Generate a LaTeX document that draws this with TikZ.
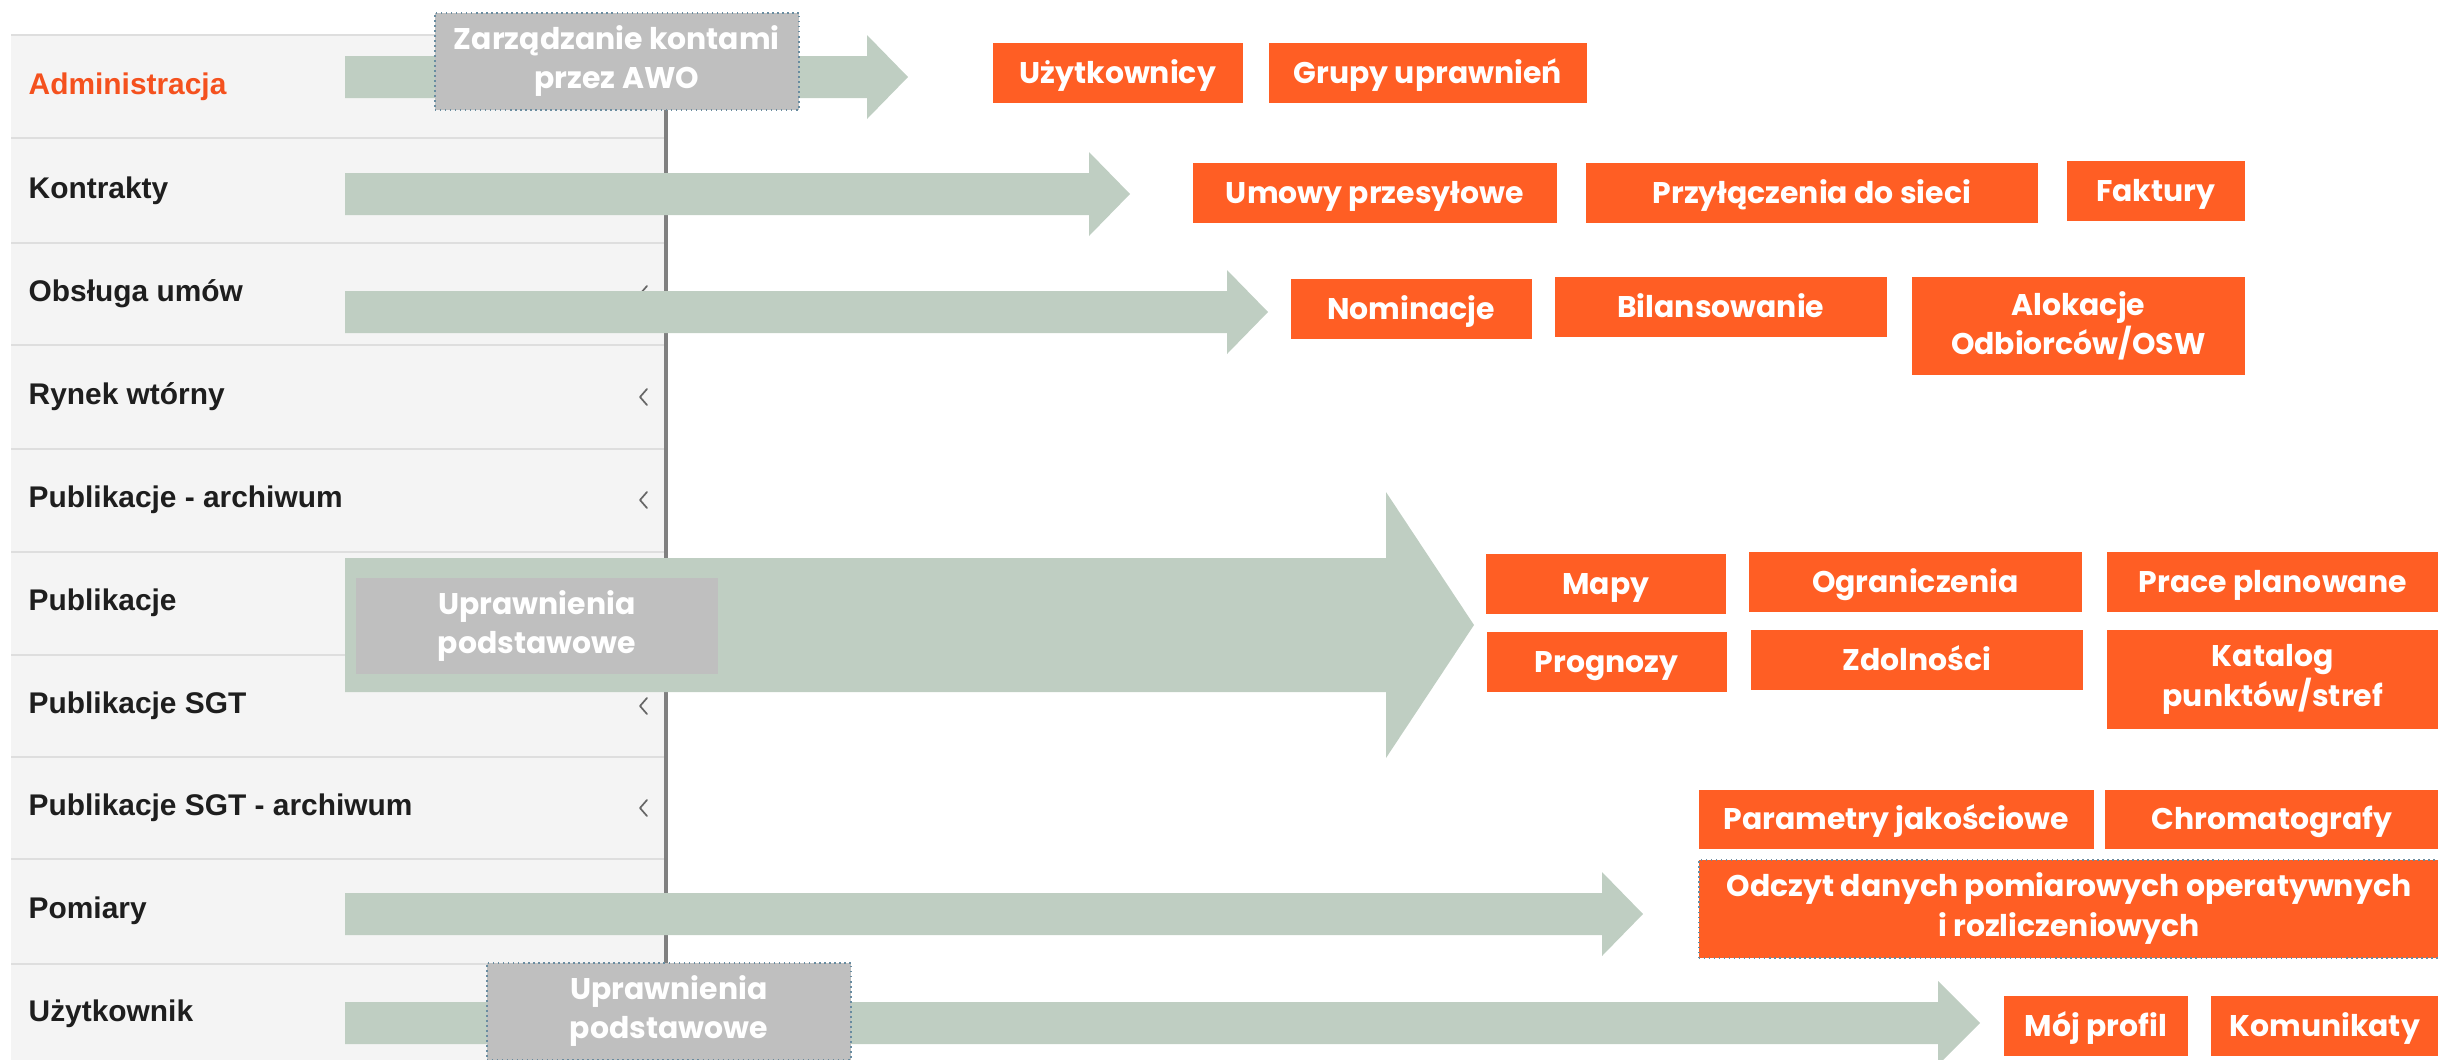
\documentclass[tikz,border=0pt]{standalone}
\usepackage{fontspec}
\setmainfont{Liberation Sans}
\newfontfamily\gfont{Poppins}
\usetikzlibrary{calc}
\definecolor{orf}{RGB}{255,94,36}
\definecolor{arf}{RGB}{191,206,194}
\definecolor{gbf}{RGB}{191,191,191}
\definecolor{pbg}{RGB}{244,244,244}
\definecolor{sepc}{RGB}{222,222,222}
\definecolor{vlinec}{RGB}{128,128,128}
\definecolor{dotc}{RGB}{105,140,160}
\definecolor{admc}{RGB}{244,81,30}
\definecolor{menut}{RGB}{30,30,30}
\newcommand\blockarr[5]{\fill[arr] ($(#1)+(0,-#3)$) -- ($(#2)+(-#4,-#3)$) -- ($(#2)+(-#4,-#5)$) -- (#2) -- ($(#2)+(-#4,#5)$) -- ($(#2)+(-#4,#3)$) -- ($(#1)+(0,#3)$) -- cycle;}
\begin{document}
\begin{tikzpicture}[x=0.01cm,y=-0.01cm,
  obox/.style={fill=orf,text=white,font=\gfont\bfseries\fontsize{8.5}{11.3}\selectfont,align=center,inner sep=0pt,anchor=north west},
  one/.style={text height=5.9pt,text depth=0pt},
  gbox/.style={fill=gbf,text=white,font=\gfont\bfseries\fontsize{8.5}{11.2}\selectfont,align=center,inner sep=0pt,anchor=north west},
  dotb/.style={draw=dotc,densely dotted,line width=0.15mm},
  menu/.style={anchor=west,font=\bfseries\fontsize{8.5}{10}\selectfont,text=menut,inner sep=0pt},
  arr/.style={fill=arf},
  chev/.style={draw=black!60,line width=0.17mm,line cap=round,line join=round},
  sepline/.style={draw=sepc,line width=0.25mm}
]
\useasboundingbox (0,0) rectangle (2438,1060);
% left menu panel
\fill[pbg] (11,35) rectangle (666,1060);
\foreach \yy in {35,138,243,345,449,552,655,757,859,964}
  \draw[sepline] (11,\yy) -- (664,\yy);
\draw[draw=vlinec,line width=0.4mm] (666,35) -- (666,1060);
\node[menu,text=admc] (mAdm) at (28,87) {Administracja};
\node[menu] (mKon) at (28,191) {Kontrakty};
\node[menu] (mObs) at (28,294) {Obsługa umów};
\node[menu] (mRyn) at (28,397) {Rynek wtórny};
\node[menu] (mPA) at (28,500) {Publikacje - archiwum};
\node[menu] (mPub) at (28,603) {Publikacje};
\node[menu] (mSGT) at (28,706) {Publikacje SGT};
\node[menu] (mSGTA) at (28,808) {Publikacje SGT - archiwum};
\node[menu] (mPom) at (28,911) {Pomiary};
\node[menu] (mUzy) at (28,1014) {Użytkownik};
\foreach \yy in {294,397,500,706,808}
  \draw[chev] (647,{\yy-8}) -- (640,\yy) -- (647,{\yy+8});
% block arrows
\coordinate (a1s) at (345,77);   \coordinate (a1t) at (908,77);
\coordinate (a2s) at (345,194);  \coordinate (a2t) at (1130,194);
\coordinate (a3s) at (345,312);  \coordinate (a3t) at (1268,312);
\coordinate (a4s) at (345,625);  \coordinate (a4t) at (1474,625);
\coordinate (a5s) at (345,914);  \coordinate (a5t) at (1643,914);
\coordinate (a6s) at (345,1023); \coordinate (a6t) at (1980,1023);
\blockarr{a1s}{a1t}{21}{41}{42}
\blockarr{a2s}{a2t}{21}{41}{42}
\blockarr{a3s}{a3t}{21}{41}{42}
\blockarr{a4s}{a4t}{67}{88}{133}
\blockarr{a5s}{a5t}{21}{41}{42}
\blockarr{a6s}{a6t}{21}{42}{42}
% grey boxes
\node[gbox,dotb,minimum width=36.4mm,minimum height=9.7mm] (g1) at (434,12) {Zarządzanie kontami\\przez AWO};
\node[gbox,minimum width=36.2mm,minimum height=9.6mm] (g2) at (355,577) {Uprawnienia\\podstawowe};
\node[gbox,dotb,minimum width=36.4mm,minimum height=9.7mm] (g3) at (486,962) {Uprawnienia\\podstawowe};
% orange boxes
\node[obox,one,minimum width=25.0mm,minimum height=6.0mm] (b1) at (992,42) {Użytkownicy};
\node[obox,one,minimum width=31.8mm,minimum height=6.0mm] (b2) at (1268,42) {Grupy uprawnień};
\node[obox,one,minimum width=36.4mm,minimum height=6.0mm] (b3) at (1192,162) {Umowy przesyłowe};
\node[obox,one,minimum width=45.2mm,minimum height=6.0mm] (b4) at (1585,162) {Przyłączenia do sieci};
\node[obox,one,minimum width=17.8mm,minimum height=6.0mm] (b5) at (2066,160) {Faktury};
\node[obox,one,minimum width=24.1mm,minimum height=6.0mm] (b6) at (1290,278) {Nominacje};
\node[obox,one,minimum width=33.2mm,minimum height=6.0mm] (b7) at (1554,276) {Bilansowanie};
\node[obox,minimum width=33.3mm,minimum height=9.8mm] (b8) at (1911,276) {Alokacje\\Odbiorców/OSW};
\node[obox,one,minimum width=24.0mm,minimum height=6.0mm] (b9) at (1485,553) {Mapy};
\node[obox,one,minimum width=33.3mm,minimum height=6.0mm] (b10) at (1748,551) {Ograniczenia};
\node[obox,one,minimum width=33.2mm,minimum height=6.0mm] (b11) at (2106,551) {Prace planowane};
\node[obox,one,minimum width=24.0mm,minimum height=6.0mm] (b12) at (1486,631) {Prognozy};
\node[obox,one,minimum width=33.2mm,minimum height=6.0mm] (b13) at (1750,629) {Zdolności};
\node[obox,minimum width=33.2mm,minimum height=9.9mm] (b14) at (2106,629) {Katalog\\punktów/stref};
\node[obox,one,minimum width=39.5mm,minimum height=5.9mm] (b15) at (1698,789) {Parametry jakościowe};
\node[obox,one,minimum width=33.4mm,minimum height=5.9mm] (b16) at (2104,789) {Chromatografy};
\node[obox,dotb,minimum width=74.0mm,minimum height=9.8mm] (b17) at (1698,859) {Odczyt danych pomiarowych operatywnych\\i rozliczeniowych};
\node[obox,one,minimum width=18.4mm,minimum height=6.0mm] (b18) at (2003,995) {Mój profil};
\node[obox,one,minimum width=22.8mm,minimum height=6.0mm] (b19) at (2210,995) {Komunikaty};
\end{tikzpicture}
\end{document}
